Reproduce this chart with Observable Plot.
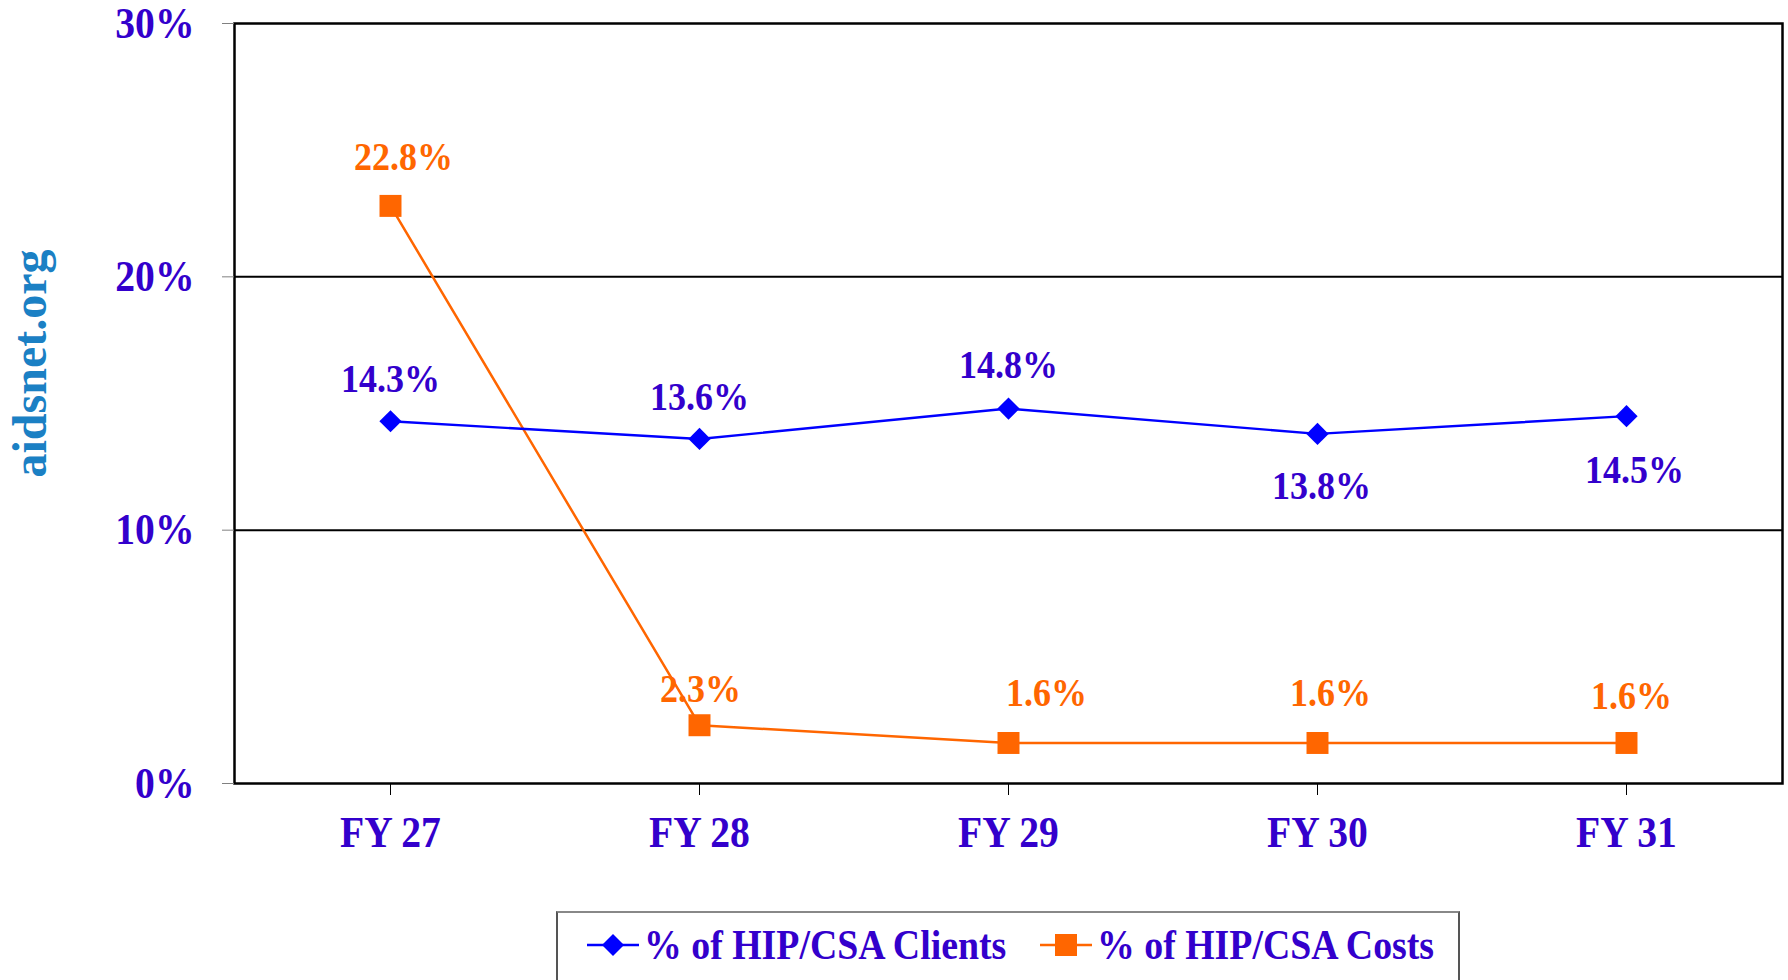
<!DOCTYPE html>
<html>
<head>
<meta charset="utf-8">
<script src="https://cdn.jsdelivr.net/npm/d3@7"></script>
<script src="https://cdn.jsdelivr.net/npm/@observablehq/plot@0.6"></script>
<style>
  html, body { margin: 0; padding: 0; background: #fff; overflow: hidden; }
  #wrap { position: relative; width: 1788px; height: 980px; overflow: hidden; font-family: "Liberation Serif", "Times New Roman", serif; }
  #chart { position: absolute; left: 0; top: 0; }
  #legend { position: absolute; left: 556px; top: 911px; width: 904px; height: 110px; border: 2px solid #555; border-top-color: #888; box-sizing: border-box; background: #fff; }
  .item { position: absolute; top: 0; height: 64px; display: flex; align-items: center; }
  .label { font-weight: bold; font-size: 42px; color: #3300cc; transform: scaleX(0.9); transform-origin: left center; white-space: nowrap; }
</style>
</head>
<body>
<div id="wrap">
  <div id="chart"></div>
  <div id="legend"></div>
</div>
<script>
// ---- data ----
const categories = ["FY 27", "FY 28", "FY 29", "FY 30", "FY 31"];
const clientsPct = [14.3, 13.6, 14.8, 13.8, 14.5];
const costsPct = [22.8, 2.3, 1.6, 1.6, 1.6];
const yTicks = [0, 10, 20, 30];
const seriesNames = ["% of HIP/CSA Clients", "% of HIP/CSA Costs"];
const siteLabel = "aidsnet.org";

// ---- layout config (label nudges in px, not data) ----
const clientNudge = [[0, -42], [0, -42], [0, -43], [4, 52], [8, 54]];
const costNudge = [[13, -49], [1, -36], [38, -50], [13, -50], [5, -47]];

const BLUE = "#0000ff", ORANGE = "#ff6600", INK = "#3300cc", SITE = "#1b80c4";
const SQ = 0.9;

const rows = categories.map((c, i) => ({category: c, clients: clientsPct[i], costs: costsPct[i]}));
const fmt = v => d3.format(".1f")(v) + "%";

const labelMarks = (key, nudges, color) => rows.map((r, i) =>
  Plot.text([r], {
    x: "category", y: key, text: d => fmt(d[key]),
    dx: nudges[i][0], dy: nudges[i][1],
    fill: color, fontSize: 40, fontWeight: "bold", fontFamily: "Liberation Serif"
  })
);

const chart = Plot.plot({
  width: 1788,
  height: 860,
  marginTop: 23,
  marginBottom: 77,
  marginLeft: 234,
  marginRight: 6,
  style: {fontFamily: "Liberation Serif", background: "#fff", overflow: "visible"},
  x: {type: "point", domain: categories, padding: 0.5, axis: null, label: null},
  y: {domain: [0, 30], axis: null, label: null},
  marks: [
    Plot.gridY([10, 20], {stroke: "#000", strokeOpacity: 1, strokeWidth: 2}),
    Plot.frame({stroke: "#000", strokeWidth: 2.5}),
    Plot.axisY({
      ticks: yTicks, tickFormat: d => d + "%", tickSize: 12, tickPadding: 28,
      stroke: "#808080", fill: INK, fontSize: 44, fontWeight: "bold", fontFamily: "Liberation Serif"
    }),
    Plot.axisX({
      tickSize: 12, tickPadding: 20, stroke: "#000", fill: INK,
      fontSize: 44, fontWeight: "bold", fontFamily: "Liberation Serif"
    }),
    Plot.line(rows, {x: "category", y: "costs", stroke: ORANGE, strokeWidth: 2.5}),
    Plot.line(rows, {x: "category", y: "clients", stroke: BLUE, strokeWidth: 2.4}),
    Plot.dot(rows, {x: "category", y: "clients", symbol: "diamond2", r: 10, fill: BLUE, stroke: "none"}),
    Plot.dot(rows, {x: "category", y: "costs", symbol: "square", r: 12.4, fill: ORANGE, stroke: "none"}),
    ...labelMarks("clients", clientNudge, INK),
    ...labelMarks("costs", costNudge, ORANGE),
    Plot.text([siteLabel], {
      frameAnchor: "left", textAnchor: "middle", dx: -204, dy: -40, rotate: -90,
      fill: SITE, fontSize: 48, fontWeight: "bold", fontFamily: "Liberation Serif"
    })
  ]
});

// condense the Times-like labels horizontally, as in the reference
chart.querySelectorAll("text").forEach(t => {
  if (t.textContent === siteLabel) return;
  const tr = t.getAttribute("transform");
  if (tr !== null) {
    t.setAttribute("transform", tr + ` scale(${SQ},1)`);
  } else {
    const x = +t.getAttribute("x") || 0, y = +t.getAttribute("y") || 0;
    t.removeAttribute("x"); t.removeAttribute("y");
    t.setAttribute("transform", `translate(${x},${y}) scale(${SQ},1)`);
  }
});

document.getElementById("chart").appendChild(chart);

// ---- legend (HTML, below/over the svg) ----
const legend = document.getElementById("legend");
const swatch = (color, kind) => {
  const s = d3.create("svg").attr("width", 52).attr("height", 30);
  s.append("line").attr("x1", 0).attr("x2", 52).attr("y1", 15).attr("y2", 15)
    .attr("stroke", color).attr("stroke-width", 2.5);
  if (kind === "diamond") {
    s.append("path").attr("d", "M26,4L37,15L26,26L15,15Z").attr("fill", color);
  } else {
    s.append("rect").attr("x", 15).attr("y", 4).attr("width", 22).attr("height", 22).attr("fill", color);
  }
  return s.node();
};
const items = [
  {name: seriesNames[0], color: BLUE, kind: "diamond", sx: 29, tx: 86},
  {name: seriesNames[1], color: ORANGE, kind: "square", sx: 482, tx: 539}
];
items.forEach(it => {
  const sw = document.createElement("div");
  sw.className = "item"; sw.style.left = it.sx + "px";
  sw.appendChild(swatch(it.color, it.kind));
  legend.appendChild(sw);
  const tx = document.createElement("div");
  tx.className = "item"; tx.style.left = it.tx + "px";
  const sp = document.createElement("span");
  sp.className = "label"; sp.textContent = it.name;
  tx.appendChild(sp);
  legend.appendChild(tx);
});
</script>
</body>
</html>
